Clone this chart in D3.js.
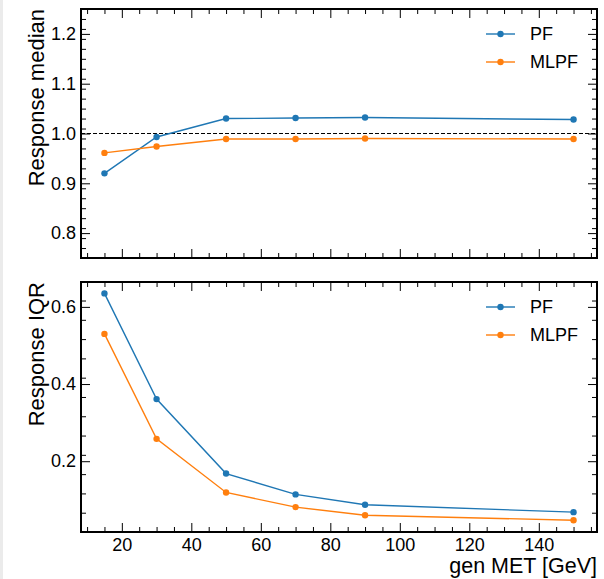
<!DOCTYPE html>
<html>
<head>
<meta charset="utf-8">
<script src="https://cdn.jsdelivr.net/npm/d3@7"></script>
<style>
  body { margin: 0; background: #fff; }
  svg { display: block; font-family: "Liberation Sans", Arial, sans-serif; }
</style>
</head>
<body>
<svg id="chart" width="604" height="579"></svg>
<script>
// gen MET bins (GeV)
var genMet = [15, 30, 50, 70, 90, 150];

// response median
var medianPF = [0.920, 0.993, 1.030, 1.031, 1.032, 1.028];
var medianMLPF = [0.961, 0.974, 0.989, 0.989, 0.990, 0.989];

// response IQR
var iqrPF = [0.635, 0.361, 0.168, 0.114, 0.087, 0.068];
var iqrMLPF = [0.530, 0.258, 0.119, 0.081, 0.060, 0.047];

var seriesNames = ['PF', 'MLPF'];
var colors = ['#1f77b4', '#ff7f0e'];

var xTicks = [20, 40, 60, 80, 100, 120, 140];
var medianTicks = [0.8, 0.9, 1.0, 1.1, 1.2];
var iqrTicks = [0.2, 0.4, 0.6];

var svg = d3.select('#chart');
var left = 81, right = 597;

// thin grey strip on the left edge
svg.append('rect').attr('x', 0).attr('y', 0).attr('width', 3).attr('height', 579).attr('fill', '#ebebeb');

var x = d3.scaleLinear().domain([8.25, 156.75]).range([left, right]);

function range(a, b, step) {
    var out = [];
    for (var v = a; v <= b + 1e-9; v += step) out.push(+v.toFixed(4));
    return out;
}

function drawPanel(opts) {
    var y = d3.scaleLinear().domain(opts.domain).range([opts.bottom, opts.top]);
    var g = svg.append('g');
    var majorLen = 9, minorLen = 5;
    var xMinor = range(10, 155, 5).filter(function (v) { return v % 20 != 0; });
    var yMinor = range(opts.domain[0], opts.domain[1], opts.minorStep)
        .filter(function (v) { return opts.ticks.every(function (t) { return Math.abs(t - v) > 1e-6; }); });

    // bottom
    g.append('g').attr('transform', 'translate(0,' + opts.bottom + ')')
        .call(d3.axisBottom(x).tickValues(xTicks).tickSize(-majorLen).tickPadding(6)
            .tickFormat(opts.showX ? d3.format('d') : ''));
    g.append('g').attr('transform', 'translate(0,' + opts.bottom + ')')
        .call(d3.axisBottom(x).tickValues(xMinor).tickSize(-minorLen).tickFormat(''));
    // top
    g.append('g').attr('transform', 'translate(0,' + opts.top + ')')
        .call(d3.axisTop(x).tickValues(xTicks).tickSize(-majorLen).tickFormat(''));
    g.append('g').attr('transform', 'translate(0,' + opts.top + ')')
        .call(d3.axisTop(x).tickValues(xMinor).tickSize(-minorLen).tickFormat(''));
    // left
    g.append('g').attr('transform', 'translate(' + left + ',0)')
        .call(d3.axisLeft(y).tickValues(opts.ticks).tickSize(-majorLen).tickPadding(5).tickFormat(d3.format('.1f')));
    g.append('g').attr('transform', 'translate(' + left + ',0)')
        .call(d3.axisLeft(y).tickValues(yMinor).tickSize(-minorLen).tickFormat(''));
    // right
    g.append('g').attr('transform', 'translate(' + right + ',0)')
        .call(d3.axisRight(y).tickValues(opts.ticks).tickSize(-majorLen).tickFormat(''));
    g.append('g').attr('transform', 'translate(' + right + ',0)')
        .call(d3.axisRight(y).tickValues(yMinor).tickSize(-minorLen).tickFormat(''));

    g.selectAll('.domain').remove();
    g.selectAll('.tick line').attr('stroke', '#000').attr('stroke-width', 1);
    g.selectAll('.tick text').attr('fill', '#000').style('font-size', '18px')
        .style('font-family', '"Liberation Sans", Arial, sans-serif');

    if (opts.refLine != null) {
        g.append('line')
            .attr('x1', left).attr('x2', right)
            .attr('y1', y(opts.refLine)).attr('y2', y(opts.refLine))
            .attr('stroke', '#000').attr('stroke-width', 1.1).attr('stroke-dasharray', '4,2');
    }

    var line = d3.line().x(function (d) { return x(d[0]); }).y(function (d) { return y(d[1]); });
    opts.series.forEach(function (vals, i) {
        var pts = genMet.map(function (m, j) { return [m, vals[j]]; });
        g.append('path').attr('d', line(pts)).attr('fill', 'none')
            .attr('stroke', colors[i]).attr('stroke-width', 1.4);
        g.selectAll(null).data(pts).enter().append('circle')
            .attr('cx', function (d) { return x(d[0]); })
            .attr('cy', function (d) { return y(d[1]); })
            .attr('r', 3.2).attr('fill', colors[i]);
    });

    // frame
    g.append('rect').attr('x', left).attr('y', opts.top)
        .attr('width', right - left).attr('height', opts.bottom - opts.top)
        .attr('fill', 'none').attr('stroke', '#000').attr('stroke-width', 2);

    // legend
    seriesNames.forEach(function (name, i) {
        var ly = opts.legendY + i * 28;
        g.append('line').attr('x1', 486).attr('x2', 515).attr('y1', ly).attr('y2', ly)
            .attr('stroke', colors[i]).attr('stroke-width', 1.4);
        g.append('circle').attr('cx', 500.5).attr('cy', ly).attr('r', 3.2).attr('fill', colors[i]);
        g.append('text').attr('x', 530).attr('y', ly).attr('dy', '0.35em')
            .style('font-size', '18px').text(name);
    });

    // y label
    g.append('text')
        .attr('transform', 'translate(44,' + opts.top + ') rotate(-90)')
        .attr('text-anchor', 'end')
        .style('font-size', '22px')
        .text(opts.ylabel);
}

drawPanel({
    top: 9, bottom: 258, domain: [0.75, 1.25], ticks: medianTicks, minorStep: 0.02,
    series: [medianPF, medianMLPF], refLine: 1.0, legendY: 34,
    ylabel: 'Response median', showX: false
});

drawPanel({
    top: 282, bottom: 532, domain: [0.0165, 0.6645], ticks: iqrTicks, minorStep: 0.05,
    series: [iqrPF, iqrMLPF], refLine: null, legendY: 307,
    ylabel: 'Response IQR', showX: true
});

// x label
svg.append('text').attr('x', right).attr('y', 573).attr('text-anchor', 'end')
    .style('font-size', '21.5px').text('gen MET [GeV]');
</script>
</body>
</html>
